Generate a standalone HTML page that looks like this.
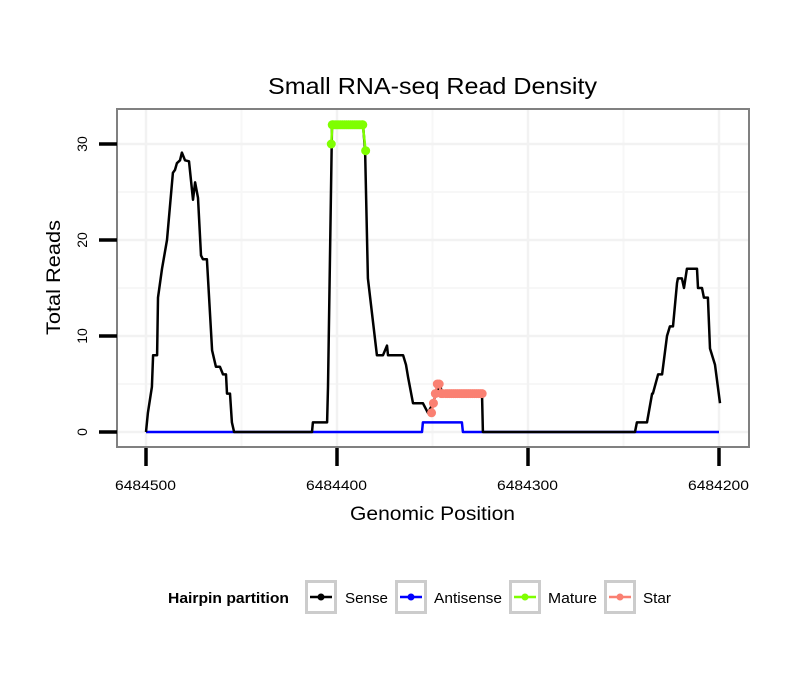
<!DOCTYPE html>
<html><head><meta charset="utf-8"><style>
body{margin:0;background:#fff;}
svg{display:block;font-family:"Liberation Sans",sans-serif;}
</style></head><body>
<svg id="chart" width="810" height="690">
<rect width="810" height="690" fill="#fff"/>
<text x="268" y="94" font-size="23" textLength="329" lengthAdjust="spacingAndGlyphs">Small RNA-seq Read Density</text>
<g id="grid"></g>
<g id="series"></g>
<rect x="117" y="109" width="632" height="338" fill="none" stroke="#808080" stroke-width="2"/>
<g id="axes"></g>
<text x="350" y="520" font-size="19" textLength="165" lengthAdjust="spacingAndGlyphs">Genomic Position</text>
<text transform="translate(60,335) rotate(-90)" font-size="19" textLength="115" lengthAdjust="spacingAndGlyphs">Total Reads</text>
<g>
<text x="168" y="603" font-size="15" font-weight="bold" textLength="121" lengthAdjust="spacingAndGlyphs">Hairpin partition</text>
<g><rect x="306.5" y="581.5" width="29" height="31" fill="#fff" stroke="#ccc" stroke-width="3"/><line x1="310" x2="332" y1="597" y2="597" stroke="#000" stroke-width="2.5"/><circle cx="321" cy="597" r="3.5" fill="#000"/><text x="345" y="603" font-size="15" textLength="43" lengthAdjust="spacingAndGlyphs">Sense</text></g>
<g><rect x="396.5" y="581.5" width="29" height="31" fill="#fff" stroke="#ccc" stroke-width="3"/><line x1="400" x2="422" y1="597" y2="597" stroke="#0000ff" stroke-width="2.5"/><circle cx="411" cy="597" r="3.5" fill="#0000ff"/><text x="434" y="603" font-size="15" textLength="68" lengthAdjust="spacingAndGlyphs">Antisense</text></g>
<g><rect x="510.5" y="581.5" width="29" height="31" fill="#fff" stroke="#ccc" stroke-width="3"/><line x1="514" x2="536" y1="597" y2="597" stroke="#7fff00" stroke-width="2.5"/><circle cx="525" cy="597" r="3.5" fill="#7fff00"/><text x="548" y="603" font-size="15" textLength="49" lengthAdjust="spacingAndGlyphs">Mature</text></g>
<g><rect x="605.5" y="581.5" width="29" height="31" fill="#fff" stroke="#ccc" stroke-width="3"/><line x1="609" x2="631" y1="597" y2="597" stroke="#fa8072" stroke-width="2.5"/><circle cx="620" cy="597" r="3.5" fill="#fa8072"/><text x="643" y="603" font-size="15" textLength="28" lengthAdjust="spacingAndGlyphs">Star</text></g>
</g>
</svg>
<script>
const BASE = 6484000;
const xTicks = [6484500, 6484400, 6484300, 6484200];
const xTickLabels = ["6484500", "6484400", "6484300", "6484200"];
const yTicks = [0, 10, 20, 30];
const yTickLabels = ["0", "10", "20", "30"];
const sensePos = [500,499,496.9,496.3,494.2,493.7,491.6,489,485.9,484.8,483.8,482.2,481.2,479.6,477.5,475.4,474.3,472.8,471.2,470.2,468.1,465.4,463.4,461.3,459.7,458.1,457.6,456,455,453.9,
 413.1,412.6,405.2,404.7,402.6,386.4,385.3,383.8,379.1,375.9,373.8,373.3,365.4,363.9,362.8,360.2,355,352.4,349.7,348.2,346.1,345,343.5,324.1,323.6,
 244,243,237.7,235,234.6,231.9,229.8,227.2,225.7,224.1,222,221.5,219.4,218.3,216.8,211.5,211,208.9,207.9,205.8,204.7,202.1,199.5];
const senseVal = [0,2,4.7,8,8,14,17,20,27,27.3,28,28.3,29.1,28.3,28.2,24.2,26,24.4,18.4,18,18,8.5,6.8,6.8,6,6,4,4,1,0,
 0,1,1,4.7,32,32,29.3,16,8,8,9,8,8,7,5.7,3,3,2,3,4,5,4,4,4,0,
 0,1,1,4,4,6,6,10,11,11,15.5,16,16,15,17,17,15,15,14,14,8.7,7,3];
const antiPos = [500,355.5,355,334.6,334.1,200];
const antiVal = [0,0,1,1,0,0];
const maturePos = [403,402.5,402,401,400,399,398,397,396,395,394,393,392,391,390,389,388,387,386.5,385];
const matureVal = [30,32,32,32,32,32,32,32,32,32,32,32,32,32,32,32,32,32,32,29.3];
const starPos = [350.5,349.5,348.5,347.5,346.5,345.5,344.5,343,342,341,340,339,338,337,336,335,334,333,332,331,330,329,328,327,326,325,324];
const starVal = [2,3,4,5,5,4,4,4,4,4,4,4,4,4,4,4,4,4,4,4,4,4,4,4,4,4,4];

const NS="http://www.w3.org/2000/svg";
const px0=146, pxPerBp=1.91;
function xs(p){ return px0 + (6484500 - (p < 100000 ? BASE + p : p))*pxPerBp; }
function ys(v){ return 432 - v*9.6; }
function mk(tag, attrs, parent){ const e=document.createElementNS(NS,tag); for(const k in attrs) e.setAttribute(k,attrs[k]); parent.appendChild(e); return e; }

const grid=document.getElementById('grid');
const axes=document.getElementById('axes');
[5,15,25].forEach(v=>{ const l=mk('line',{x1:118,x2:748,y1:ys(v),y2:ys(v),stroke:'#f7f7f7','stroke-width':2},grid);

 });
[6484450,6484350,6484250].forEach(p=>{ const l=mk('line',{x1:xs(p),x2:xs(p),y1:110,y2:446,stroke:'#f7f7f7','stroke-width':2},grid);

 });
yTicks.forEach((v,i)=>{
 const g=mk('line',{x1:118,x2:748,y1:ys(v),y2:ys(v),stroke:'#f2f2f2','stroke-width':2.5},grid);
 
 
 const t=mk('line',{x1:99,x2:117,y1:ys(v),y2:ys(v),stroke:'#000','stroke-width':3.5},axes);
 
 
 const tx=mk('text',{transform:`translate(87,${ys(v)}) rotate(-90)`,'font-size':14,'text-anchor':'middle'},axes);
 tx.textContent=yTickLabels[i];
 
 
});
xTicks.forEach((p,i)=>{
 const g=mk('line',{x1:xs(p),x2:xs(p),y1:110,y2:446,stroke:'#f2f2f2','stroke-width':2.5},grid);
 
 
 const t=mk('line',{x1:xs(p),x2:xs(p),y1:448,y2:466,stroke:'#000','stroke-width':3.5},axes);
 
 
 const tx=mk('text',{x:xs(p)-31,y:490,'font-size':14,textLength:61,lengthAdjust:'spacingAndGlyphs'},axes);
 tx.textContent=xTickLabels[i];
 
 
});

const ser=document.getElementById('series');
function line(pos,val,color,w,name){
 const pts=pos.map((p,i)=>xs(p).toFixed(1)+','+ys(val[i]).toFixed(1)).join(' ');
 const pl=mk('polyline',{points:pts,fill:'none',stroke:color,'stroke-width':w,'stroke-linejoin':'round'},ser);
 
 
}
function dots(pos,val,color,name){
 pos.forEach((p,i)=>{ const c=mk('circle',{cx:xs(p),cy:ys(val[i]),r:4.5,fill:color},ser);
 
  });
}
line(antiPos,antiVal,'#0000ff',2.5,'antisense-line');
line(sensePos,senseVal,'#000',2.5,'sense-line');
line(maturePos,matureVal,'#7fff00',2.5,'mature-line');
dots(maturePos,matureVal,'#7fff00','mature-point');
line(starPos,starVal,'#fa8072',2.5,'star-line');
dots(starPos,starVal,'#fa8072','star-point');
</script>
</body></html>
